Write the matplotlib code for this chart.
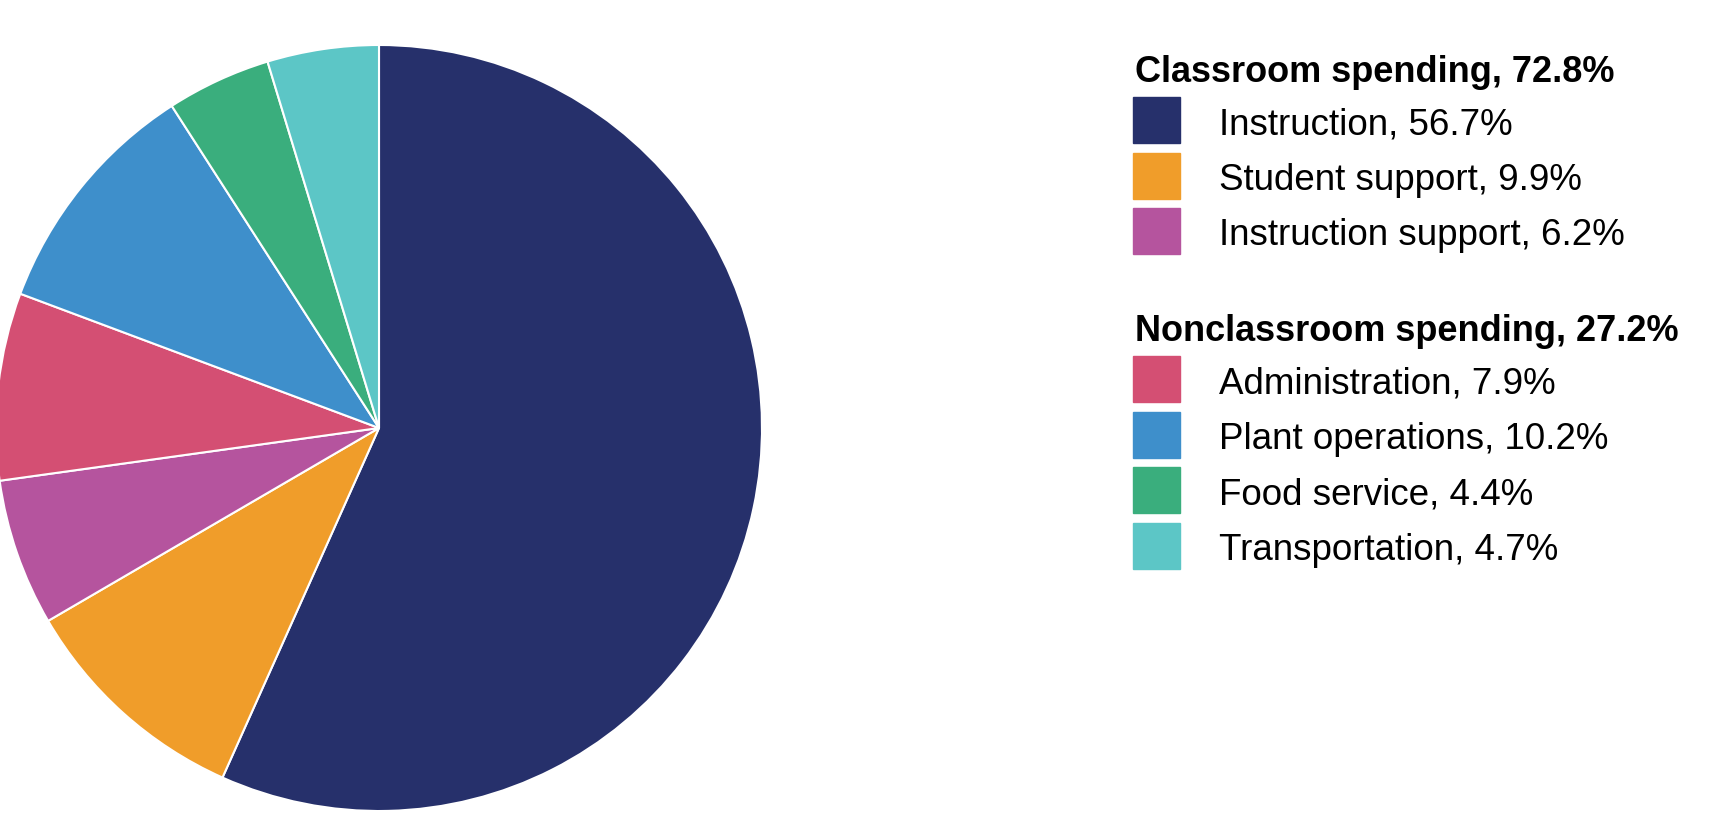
import matplotlib
matplotlib.use("Agg")
import matplotlib.pyplot as plt
from matplotlib.patches import Rectangle

plt.rcParams['font.family'] = ['Liberation Sans', 'DejaVu Sans']

# slices, clockwise from 12 o'clock
labels = ["Instruction", "Student support", "Instruction support",
          "Administration", "Plant operations", "Food service", "Transportation"]
shares = [56.7, 9.9, 6.2, 7.9, 10.2, 4.4, 4.7]
colors = ["#26306b", "#f09d2a", "#b5549e", "#d44f73", "#3e8fcb", "#3aae7d", "#5cc6c6"]

groups = [("Classroom spending, 72.8%", [0, 1, 2]),
          ("Nonclassroom spending, 27.2%", [3, 4, 5, 6])]

W, H = 1735, 834
fig = plt.figure(figsize=(W / 100, H / 100), dpi=100)
ax = fig.add_axes([0, 0, 1, 1])

ax.pie(shares, colors=colors, startangle=90, counterclock=False,
       center=(379, H - 428), radius=383,
       wedgeprops=dict(edgecolor="white", linewidth=1.5))
ax.set_xlim(0, W)
ax.set_ylim(0, H)
ax.axis("off")

# legend drawn by hand, pixel coords measured from top
hx, sx, tx = 1135, 1133, 1219
sw, sh = 47, 46
y_head = [68, 327]      # cap-height centre of the group titles
pitch = 55.5
for (title, idx), y0 in zip(groups, y_head):
    ax.text(hx, H - y0 - 14, title, fontsize=26, fontweight="bold",
            ha="left", va="baseline")
    for k, i in enumerate(idx):
        yc = y0 + 52 + k * pitch
        ax.add_patch(Rectangle((sx, H - yc - sh / 2), sw, sh, color=colors[i]))
        ax.text(tx, H - yc - 14, f"{labels[i]}, {shares[i]}%", fontsize=26.5,
                ha="left", va="baseline")

fig.savefig("out.png", dpi=100)
